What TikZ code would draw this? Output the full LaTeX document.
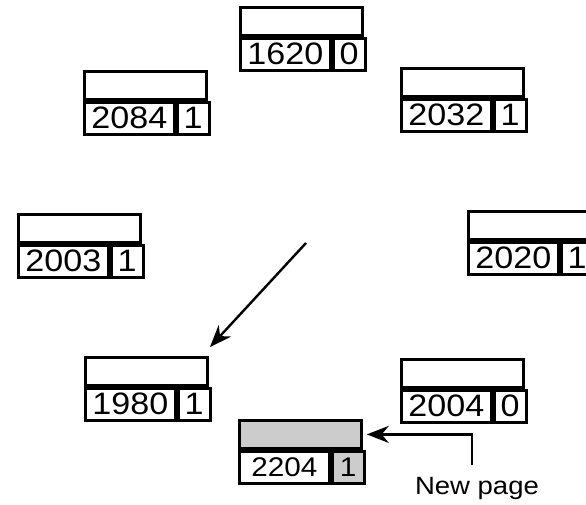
\documentclass[tikz,border=0pt]{standalone}
\usepackage{fontspec}
\setmainfont{Liberation Sans}
\newfontfamily\pagefont[FakeStretch=1.1]{Liberation Sans}
\usetikzlibrary{arrows.meta}
\tikzset{
  cell/.style={draw, line width=2.8pt, inner sep=0pt, anchor=north west},
  toprow/.style={cell, minimum width=122pt, minimum height=28pt},
  numcell/.style={cell, minimum width=90pt, minimum height=32pt, font=\pagefont\fontsize{31}{33}\selectfont},
  bitcell/.style={cell, minimum width=32pt, minimum height=32pt, font=\pagefont\fontsize{31}{33}\selectfont},
  pointer/.style={line width=2.4pt, -{Stealth[length=22pt,width=17pt]}}
}
% one page frame: name, top left corner, page number, R bit
\newcommand{\pageframe}[4]{%
  \node[toprow] (#1-top) at (#2) {};
  \node[numcell] (#1-num) at (#1-top.south west) {#3};
  \node[bitcell] (#1-bit) at (#1-num.north east) {#4};
}
\begin{document}
\begin{tikzpicture}[x=1pt,y=-1pt]
\useasboundingbox (0,0) rectangle (586,504);
\pageframe{pA}{239,6}{1620}{0}
\pageframe{pB}{400,67}{2032}{1}
\pageframe{pC}{467,210}{2020}{1}
\pageframe{pD}{400,358}{2004}{0}
\pageframe{pF}{84,356}{1980}{1}
\pageframe{pG}{17,213}{2003}{1}
\pageframe{pH}{83,70}{2084}{1}
% the new page
\node[toprow, fill=gray!40] (pE-top) at (238,419) {};
\node[numcell] (pE-num) at (pE-top.south west) {\fontsize{27}{30}\selectfont 2204};
\node[bitcell, fill=gray!40] (pE-bit) at (pE-num.north east) {\fontsize{27}{30}\selectfont 1};
\node[font=\pagefont\fontsize{25}{28}\selectfont] (newpage) at (477,488) {New page};
% hand
\coordinate (handA) at (306,243);
\coordinate (handB) at (210,347);
\draw[pointer] (handA) -- (handB);
\draw[pointer] (newpage.north -| 472,0) ++(0,-8) |- ([xshift=4pt]pE-top.east);
\end{tikzpicture}
\end{document}
